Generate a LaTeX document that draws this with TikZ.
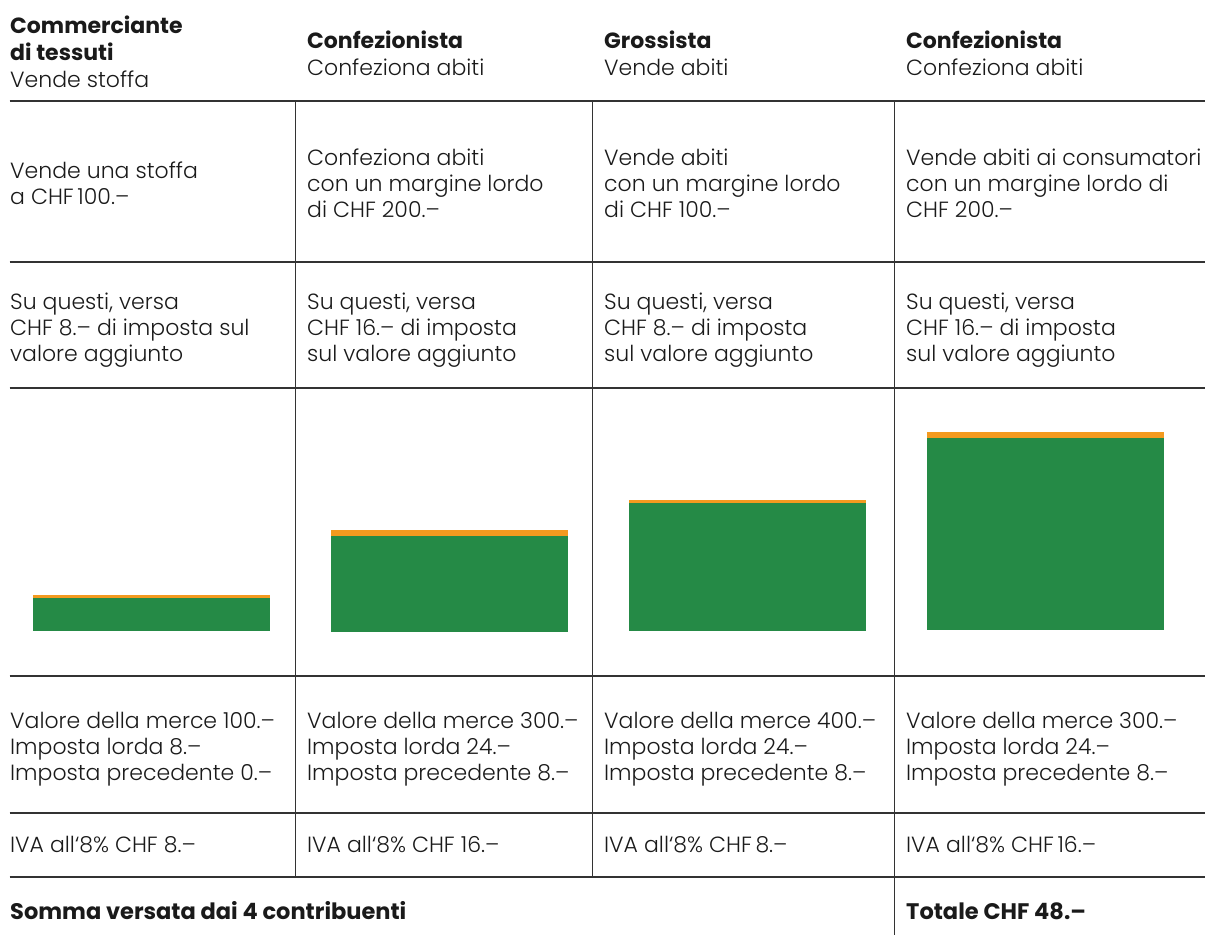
\documentclass[tikz,border=0pt]{standalone}
\usepackage{fontspec}
\setmainfont{Poppins Light}[BoldFont={Poppins Bold}]
\definecolor{vgreen}{HTML}{258A46}
\definecolor{vorange}{HTML}{F39A1F}
\definecolor{vtext}{HTML}{1A1A1A}
\definecolor{vline}{HTML}{333333}
\begin{document}
\begin{tikzpicture}[x=1pt,y=-1pt,
  cell/.style={anchor=west,align=left,inner sep=0pt,text=vtext,font=\fontsize{22}{26}\selectfont},
  head/.style={cell,font=\fontsize{22}{27}\selectfont},
  boldcell/.style={cell,font=\fontsize{22.5}{26}\selectfont\bfseries},
  gridline/.style={draw=vline,line width=1.3pt},
  greenbar/.style={fill=vgreen,draw=none},
  orangebar/.style={fill=vorange,draw=none}]
\useasboundingbox (0,0) rectangle (1205,935);
% grid
\foreach \yy in {101,262,388,676,813,877}
  \draw[gridline] (9.5,\yy) -- (1205,\yy);
\draw[gridline] (295.5,101) -- (295.5,877);
\draw[gridline] (592.5,101) -- (592.5,877);
\draw[gridline] (894.5,101) -- (894.5,935);
% header
\node[head] (h1) at (10,52) {\textbf{Commerciante}\\\textbf{di tessuti}\\Vende stoffa};
\node[head] (h2) at (307,53) {\textbf{Confezionista}\\Confeziona abiti};
\node[head] (h3) at (604,53) {\textbf{Grossista}\\Vende abiti};
\node[head] (h4) at (906,53) {\textbf{Confezionista}\\Confeziona abiti};
% row 2
\node[cell] (a1) at (10,183) {Vende una stoffa\\a CHF\,100.–};
\node[cell] (a2) at (307,183) {Confeziona abiti\\con un margine lordo\\di CHF 200.–};
\node[cell] (a3) at (604,183) {Vende abiti\\con un margine lordo\\di CHF 100.–};
\node[cell] (a4) at (906,183) {Vende abiti ai consumatori\\con un margine lordo di\\CHF 200.–};
% row 3
\node[cell] (b1) at (10,330) {Su questi, versa\\CHF 8.– di imposta sul\\valore aggiunto};
\node[cell] (b2) at (307,330) {Su questi, versa\\CHF 16.– di imposta\\sul valore aggiunto};
\node[cell] (b3) at (604,330) {Su questi, versa\\CHF 8.– di imposta\\sul valore aggiunto};
\node[cell] (b4) at (906,330) {Su questi, versa\\CHF 16.– di imposta\\sul valore aggiunto};
% bars
\fill[orangebar] (33,595) rectangle (270,598);
\fill[greenbar] (33,598) rectangle (270,631);
\fill[orangebar] (331,530) rectangle (568,536);
\fill[greenbar] (331,536) rectangle (568,632);
\fill[orangebar] (629,500) rectangle (866,503);
\fill[greenbar] (629,503) rectangle (866,631);
\fill[orangebar] (927,432) rectangle (1164,438);
\fill[greenbar] (927,438) rectangle (1164,630);
% row 5
\node[cell] (c1) at (10,749) {Valore della merce 100.–\\Imposta lorda 8.–\\Imposta precedente 0.–};
\node[cell] (c2) at (307,749) {Valore della merce 300.–\\Imposta lorda 24.–\\Imposta precedente 8.–};
\node[cell] (c3) at (604,749) {Valore della merce 400.–\\Imposta lorda 24.–\\Imposta precedente 8.–};
\node[cell] (c4) at (906,749) {Valore della merce 300.–\\Imposta lorda 24.–\\Imposta precedente 8.–};
% row 6
\node[cell] (d1) at (10,845) {IVA all‘8\% CHF 8.–};
\node[cell] (d2) at (307,845) {IVA all‘8\% CHF 16.–};
\node[cell] (d3) at (604,845) {IVA all‘8\% CHF\,8.–};
\node[cell] (d4) at (906,845) {IVA all‘8\% CHF\,16.–};
% bottom
\node[boldcell] (s) at (10,911) {Somma versata dai 4 contribuenti};
\node[boldcell] (t) at (906,911) {Totale CHF 48.–};
\end{tikzpicture}
\end{document}
